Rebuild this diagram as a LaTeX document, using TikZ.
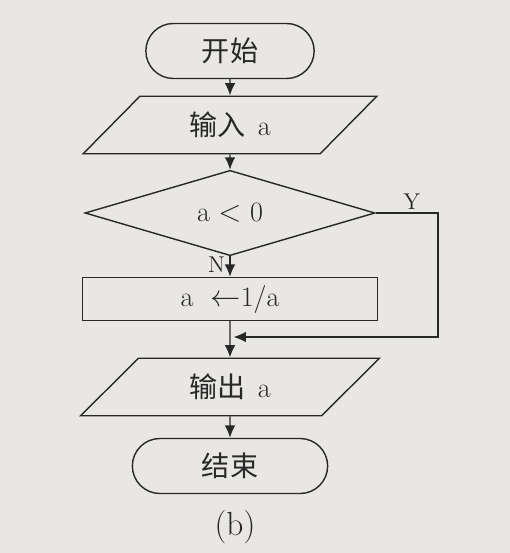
\documentclass[tikz,border=0pt]{standalone}
\usepackage{fontspec}
\newfontfamily\cjk{Noto Sans CJK SC}
\usetikzlibrary{shapes.geometric,shapes.misc,arrows.meta}

\definecolor{paper}{RGB}{233,231,227}
\definecolor{ink}{RGB}{40,40,40}

\tikzset{
  every node/.style={font=\fontsize{16}{18}\selectfont,text=ink},
  term/.style={draw=ink,thick,rounded rectangle,minimum height=1.1cm},
  iobox/.style={draw=ink,thick,trapezium,trapezium left angle=52,trapezium right angle=128,
    trapezium stretches=true,minimum height=1.15cm},
  procbox/.style={draw=ink,thick,rectangle,minimum width=5.9cm,minimum height=0.86cm},
  decide/.style={draw=ink,thick,diamond,minimum width=5.8cm,minimum height=1.56cm,inner sep=0pt},
  flow/.style={draw=ink,thick,-{Latex[length=7pt,width=6pt]}},
  branch/.style={font=\fontsize{13}{15}\selectfont,inner sep=0.5pt}
}

\begin{document}
\begin{tikzpicture}
  \pgfmathsetmacro\xmid{4.6}
  \pgfmathsetmacro\xright{8.76}

  \fill[paper] (0,0) rectangle (10.2,-11.06);
  \useasboundingbox (0,0) rectangle (10.2,-11.06);

% boxes of the chart
  \node[term,minimum width=3.6cm] (start) at (\xmid,-1.02) {\cjk 开始};
  \node[iobox,minimum width=5.9cm] (input) at (\xmid,-2.5) {\cjk 输入\ \ \rmfamily a};
  \node[decide] (cond) at (\xmid,-4.26) {a $<$ 0};
  \node[procbox] (assign) at (\xmid,-5.98) {a \ $\leftarrow$1/a};
  \node[iobox,minimum width=6.0cm] (output) at (\xmid,-7.74) {\cjk 输出\ \ \rmfamily a};
  \node[term,minimum width=4.14cm] (stop) at (\xmid,-9.32) {\cjk 结束};
  \node[font=\fontsize{19}{22}\selectfont] (caption) at (4.7,-10.54) {(b)};

% helper points for the Y branch
  \coordinate (ybend) at (\xright,-4.26);
  \coordinate (merge) at (\xmid,-6.74);

% connectors
  \draw[flow] (start) -- (input);
  \draw[flow] (input) -- (cond);
  \draw[flow] (cond) -- node[branch,left,pos=0.4,xshift=-2pt] {N} (assign);
  \draw[flow] (assign) -- (output);
  \draw[flow] (output) -- (stop);
  \draw[flow] (cond.east) -- node[branch,above,pos=0.58,yshift=1pt] {Y} (ybend) |- ([xshift=2pt]merge);

\end{tikzpicture}
\end{document}
